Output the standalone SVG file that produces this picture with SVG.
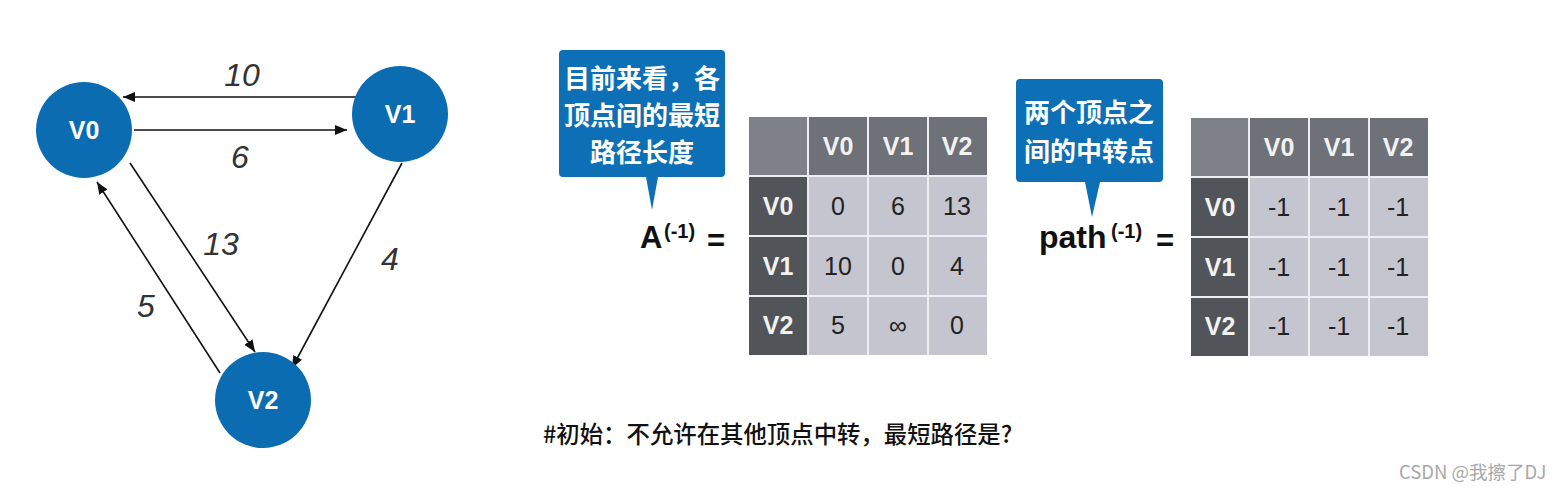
<svg xmlns="http://www.w3.org/2000/svg" width="1564" height="493" viewBox="0 0 1564 493">
<style>
.node{fill:#0b6cb2}
.nl{fill:#fff;font-family:"Liberation Sans",Arial,sans-serif;font-weight:bold;font-size:25px;text-anchor:middle}
.el{fill:#333;font-family:"Liberation Sans",Arial,sans-serif;font-style:italic;font-size:32px;text-anchor:middle}
.edge{stroke:#111;stroke-width:1.6;fill:none;marker-end:url(#ah)}
.corner{fill:#7e8187}
.hd{fill:#6e7177}
.rh{fill:#515459}
.cell{fill:#c5c5cf}
.grid{stroke:#eeeef2;stroke-width:2;fill:none}
.ht{fill:#f2f2f2;font-family:"Liberation Sans",Arial,sans-serif;font-weight:bold;font-size:25px;text-anchor:middle}
.dt{fill:#222;font-family:"Liberation Sans",Arial,sans-serif;font-size:25px;text-anchor:middle}
.call{fill:#0d6fb6}
.ct{fill:#fff;font-family:"Noto Sans CJK SC",sans-serif;font-weight:bold;font-size:26px;text-anchor:middle}
.eq{fill:#111;font-family:"Liberation Sans",Arial,sans-serif;font-weight:bold}
</style>
<defs>
<marker id="ah" markerUnits="userSpaceOnUse" markerWidth="12" markerHeight="10" refX="12" refY="5" orient="auto">
<path d="M0,0 L12,5 L0,10 z" fill="#111"/>
</marker>
</defs>
<rect width="1564" height="493" fill="#fff"/>
<g id="edges">
<path class="edge" d="M360,97 L123,97"/>
<path class="edge" d="M134,130 L347,130"/>
<path class="edge" d="M130,163 L255,352"/>
<path class="edge" d="M220,373 L97,182"/>
<path class="edge" d="M402,163 L292,368"/>
<text class="el" x="242" y="86">10</text>
<text class="el" x="240" y="168">6</text>
<text class="el" x="221" y="255">13</text>
<text class="el" x="390" y="270">4</text>
<text class="el" x="146" y="317">5</text>
</g>
<g id="V0"><circle class="node" cx="84" cy="130" r="48"/><text class="nl" x="84" y="139">V0</text></g>
<g id="V1"><circle class="node" cx="400" cy="114" r="48"/><text class="nl" x="400" y="123">V1</text></g>
<g id="V2"><circle class="node" cx="263" cy="400" r="48"/><text class="nl" x="263" y="409">V2</text></g>

<g id="callout1">
<path class="call" d="M563,50 H721 Q725,50 725,54 V173 Q725,177 721,177 H658 L652,210 L646,177 H563 Q559,177 559,173 V54 Q559,50 563,50 z"/>
<text class="ct" x="642" y="88">目前来看，各</text>
<text class="ct" x="642" y="125">顶点间的最短</text>
<text class="ct" x="642" y="162">路径长度</text>
</g>
<g id="labelA">
<text class="eq" x="640" y="248" font-size="31">A</text>
<text class="eq" x="664" y="238" font-size="20">(-1)</text>
<text class="eq" x="707" y="251" font-size="31">=</text>
</g>
<g id="tableA">
<rect class="corner" x="749" y="117" width="59" height="59"/>
<rect class="hd" x="808" y="117" width="179" height="59"/>
<rect class="rh" x="749" y="176" width="59" height="179"/>
<rect class="cell" x="808" y="176" width="179" height="179"/>
<path class="grid" d="M808,117 V355 M868,117 V355 M928,117 V355 M749,176 H987 M749,236 H987 M749,296 H987"/>
<text class="ht" x="838" y="155">V0</text>
<text class="ht" x="898" y="155">V1</text>
<text class="ht" x="957" y="155">V2</text>
<text class="ht" x="778" y="215">V0</text>
<text class="ht" x="778" y="275">V1</text>
<text class="ht" x="778" y="334">V2</text>
<text class="dt" x="838" y="215">0</text>
<text class="dt" x="898" y="215">6</text>
<text class="dt" x="957" y="215">13</text>
<text class="dt" x="838" y="275">10</text>
<text class="dt" x="898" y="275">0</text>
<text class="dt" x="957" y="275">4</text>
<text class="dt" x="838" y="334">5</text>
<text class="dt" x="898" y="334">∞</text>
<text class="dt" x="957" y="334">0</text>
</g>

<g id="callout2">
<path class="call" d="M1020,79 H1159 Q1163,79 1163,83 V178 Q1163,182 1159,182 H1100 L1092,217 L1085,182 H1020 Q1016,182 1016,178 V83 Q1016,79 1020,79 z"/>
<text class="ct" x="1089" y="122">两个顶点之</text>
<text class="ct" x="1089" y="161">间的中转点</text>
</g>
<g id="labelPath">
<text class="eq" x="1039" y="248" font-size="32">path</text>
<text class="eq" x="1111" y="238" font-size="20">(-1)</text>
<text class="eq" x="1156" y="251" font-size="31">=</text>
</g>
<g id="tablePath">
<rect class="corner" x="1191" y="118" width="58" height="59"/>
<rect class="hd" x="1249" y="118" width="179" height="59"/>
<rect class="rh" x="1191" y="177" width="58" height="179"/>
<rect class="cell" x="1249" y="177" width="179" height="179"/>
<path class="grid" d="M1249,118 V356 M1309,118 V356 M1369,118 V356 M1191,177 H1428 M1191,237 H1428 M1191,297 H1428"/>
<text class="ht" x="1279" y="156">V0</text>
<text class="ht" x="1339" y="156">V1</text>
<text class="ht" x="1398" y="156">V2</text>
<text class="ht" x="1220" y="216">V0</text>
<text class="ht" x="1220" y="276">V1</text>
<text class="ht" x="1220" y="335">V2</text>
<text class="dt" x="1279" y="216">-1</text>
<text class="dt" x="1339" y="216">-1</text>
<text class="dt" x="1398" y="216">-1</text>
<text class="dt" x="1279" y="276">-1</text>
<text class="dt" x="1339" y="276">-1</text>
<text class="dt" x="1398" y="276">-1</text>
<text class="dt" x="1279" y="335">-1</text>
<text class="dt" x="1339" y="335">-1</text>
<text class="dt" x="1398" y="335">-1</text>
</g>

<text x="543" y="443" font-family="'Noto Sans CJK SC',sans-serif" font-size="23.4" font-weight="500" fill="#111">#初始：不允许在其他顶点中转，最短路径是?</text>
<text x="1399" y="479" font-family="'Noto Sans CJK SC',sans-serif" font-size="18.5" fill="#a8a8a8">CSDN @我擦了DJ</text>
</svg>
